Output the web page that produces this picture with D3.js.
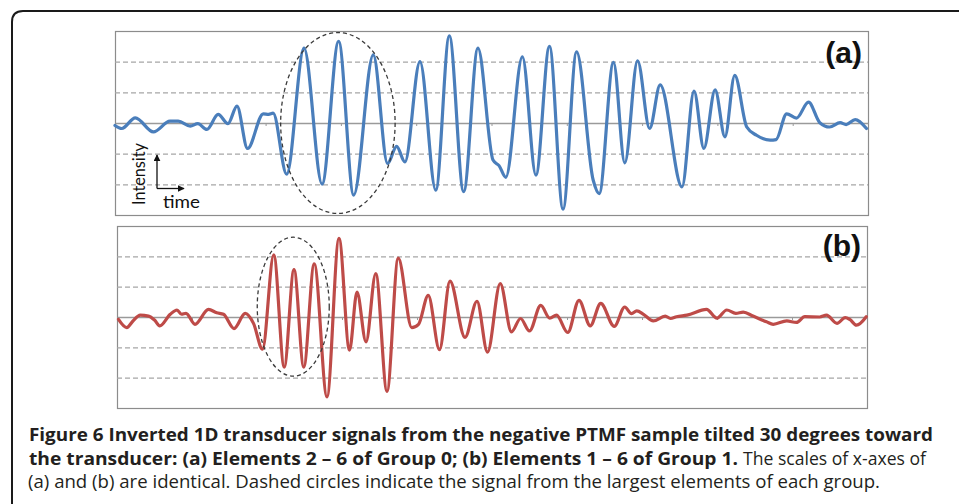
<!DOCTYPE html>
<html>
<head>
<meta charset="utf-8">
<script src="https://cdn.jsdelivr.net/npm/d3@7"></script>
<style>
  html, body { margin: 0; padding: 0; background: #fff; }
  svg { display: block; }
</style>
</head>
<body>
<svg id="fig" width="959" height="504"></svg>
<script>
// ---------- DATA ----------
// Panel (a): Elements 2–6 of Group 0 (time in tick units, intensity in grid units)
const blueTime = [0.00,0.09,0.27,0.51,0.73,0.84,1.00,1.10,1.22,1.37,1.50,1.62,1.76,1.97,2.04,2.10,2.28,2.51,2.75,2.97,3.17,3.43,3.62,3.74,3.85,4.05,4.26,4.44,4.63,4.82,5.02,5.10,5.19,5.41,5.59,5.77,5.95,6.13,6.35,6.43,6.62,6.77,6.94,7.10,7.24,7.53,7.69,7.82,7.97,8.10,8.23,8.39,8.52,8.70,8.78,8.92,9.05,9.21,9.36,9.49,9.63,9.71,9.83,9.98];
const blueValue = [-0.08,-0.18,0.17,-0.29,0.06,0.06,-0.10,-0.02,-0.21,0.28,-0.02,0.55,-0.83,0.30,0.28,0.32,-1.67,2.44,-1.99,2.66,-2.35,2.22,-1.32,-0.76,-1.27,2.00,-2.19,2.84,-2.24,2.44,-1.21,-1.39,-1.77,2.16,-1.70,2.50,-2.81,2.32,-1.86,-2.30,1.98,-1.30,2.03,-0.18,1.24,-2.08,1.04,-0.83,1.08,-0.45,1.55,-0.13,-0.40,-0.56,-0.54,0.30,0.16,0.68,0.01,-0.13,0.01,-0.05,0.11,-0.18];

// Panel (b): Elements 1–6 of Group 1
const redTime = [0.02,0.13,0.21,0.31,0.42,0.50,0.57,0.71,0.80,0.86,0.92,1.04,1.22,1.33,1.42,1.56,1.71,1.82,1.94,2.09,2.23,2.36,2.49,2.63,2.80,2.96,3.10,3.20,3.32,3.45,3.60,3.75,3.93,4.02,4.15,4.30,4.44,4.64,4.80,4.94,5.11,5.26,5.38,5.50,5.65,5.77,5.86,6.01,6.16,6.31,6.45,6.63,6.77,6.86,6.93,7.02,7.15,7.31,7.38,7.46,7.60,7.86,8.00,8.13,8.25,8.35,8.48,8.66,8.75,8.93,9.06,9.17,9.37,9.46,9.60,9.71,9.77,9.86,9.99];
const redValue = [-0.08,-0.35,-0.14,0.06,0.03,-0.10,-0.29,0.09,0.23,0.09,0.12,-0.24,0.25,0.14,0.09,-0.38,0.12,-0.21,-1.06,2.05,-1.65,1.56,-1.65,1.75,-2.63,2.59,-1.09,0.82,-0.82,1.43,-2.45,1.94,-0.35,-0.24,0.71,-1.08,1.18,-0.67,0.52,-1.16,1.10,-0.49,-0.05,-0.46,0.38,-0.04,0.06,-0.51,0.55,-0.29,0.45,-0.31,0.33,0.11,0.20,0.09,-0.13,0.03,-0.05,0.01,0.06,0.25,-0.04,0.23,0.12,0.16,0.03,-0.16,-0.24,-0.13,-0.18,0.01,0.00,0.06,-0.21,-0.02,-0.08,-0.27,0.01];

const xTicks = [1,2,3,4,5,6,7,8,9];
const gridLevels = [-2,-1,1,2];
const panelLabels = ["(a)", "(b)"];
// dashed ellipses (centre time, centre intensity, half-width, half-height) in data units
const ellipseA = [2.96, 0.0, 0.76, 2.95];
const ellipseB = [2.35, 0.34, 0.48, 2.29];

const captionLine1 = "Figure 6 Inverted 1D transducer signals from the negative PTMF sample tilted 30 degrees toward";
const captionLine2Bold = "the transducer: (a) Elements 2 – 6 of Group 0; (b) Elements 1 – 6 of Group 1.";
const captionLine2 = "The scales of x-axes of";
const captionLine3 = "(a) and (b) are identical. Dashed circles indicate the signal from the largest elements of each group.";

// ---------- DRAW ----------
const svg = d3.select("#fig");

// card border (rounded top-left corner)
svg.append("path")
  .attr("d", "M12,504 L12,22 Q12,11 23,11 L959,11")
  .attr("fill", "none").attr("stroke", "#1a1a1a").attr("stroke-width", 2);

const panels = [
  { x0: 115, x1: 868, y0: 31, y1: 215, t: blueTime, v: blueValue, color: "#4a7ebb", label: panelLabels[0], ell: ellipseA, labelY: 63 },
  { x0: 117, x1: 867, y0: 226, y1: 408, t: redTime, v: redValue, color: "#be4b48", label: panelLabels[1], ell: ellipseB, labelY: 256 }
];

panels.forEach((p, i) => {
  const g = svg.append("g");
  const x = d3.scaleLinear().domain([0, 10]).range([p.x0, p.x1]);
  const y = d3.scaleLinear().domain([-3, 3]).range([p.y1, p.y0]);

  // frame
  g.append("rect")
    .attr("x", p.x0 + 0.5).attr("y", p.y0 + 0.5)
    .attr("width", p.x1 - p.x0).attr("height", p.y1 - p.y0)
    .attr("fill", "#fff").attr("stroke", "#8c8c8c").attr("stroke-width", 1.2);

  // dashed horizontal grid
  const grid = g.append("g")
    .attr("transform", `translate(${p.x0},0)`)
    .call(d3.axisLeft(y).tickValues(gridLevels).tickSize(-(p.x1 - p.x0)).tickFormat(""));
  grid.select(".domain").remove();
  grid.selectAll(".tick line")
    .attr("stroke", "#a6a6a6").attr("stroke-width", 1.1).attr("stroke-dasharray", "5,3");

  // zero line (x axis) with small tick marks
  const ax = g.append("g")
    .attr("transform", `translate(0,${y(0)})`)
    .call(d3.axisBottom(x).tickValues(xTicks).tickSize(3).tickSizeOuter(0).tickFormat(""));
  ax.select(".domain").attr("stroke", "#9a9a9a").attr("stroke-width", 1.6);
  ax.selectAll(".tick line").attr("stroke", "#9a9a9a").attr("stroke-width", 1);

  // signal
  const data = p.t.map((tt, k) => [tt, p.v[k]]);
  const line = d3.line().x(d => x(d[0])).y(d => y(d[1])).curve(d3.curveMonotoneX);
  g.append("path")
    .datum(data)
    .attr("d", line)
    .attr("fill", "none")
    .attr("stroke", p.color)
    .attr("stroke-width", 3.2)
    .attr("stroke-linejoin", "round")
    .attr("stroke-linecap", "round");

  // dashed ellipse
  const [ecx, ecy, erx, ery] = p.ell;
  g.append("ellipse")
    .attr("cx", x(ecx)).attr("cy", y(ecy))
    .attr("rx", x(ecx + erx) - x(ecx)).attr("ry", y(ecy) - y(ecy + ery))
    .attr("fill", "none").attr("stroke", "#3a3a3a")
    .attr("stroke-width", 1.3).attr("stroke-dasharray", "4,3");

  // panel label
  g.append("text")
    .attr("x", p.x1 - 6).attr("y", p.labelY)
    .attr("text-anchor", "end")
    .attr("font-family", "'Liberation Sans', Arial, sans-serif")
    .attr("font-weight", "bold")
    .attr("font-size", 30)
    .attr("fill", "#111")
    .text(p.label);
});

// Intensity / time inset in panel (a)
const defs = svg.append("defs");
defs.append("marker")
  .attr("id", "arr").attr("viewBox", "0 0 10 10")
  .attr("refX", 9).attr("refY", 5)
  .attr("markerWidth", 7).attr("markerHeight", 7)
  .attr("markerUnits", "userSpaceOnUse")
  .attr("orient", "auto")
  .append("path").attr("d", "M0,0 L10,5 L0,10 Z").attr("fill", "#111");

const inset = svg.append("g");
inset.append("path")
  .attr("d", "M157,188.5 L157,155")
  .attr("stroke", "#111").attr("stroke-width", 1.3).attr("fill", "none")
  .attr("marker-end", "url(#arr)");
inset.append("path")
  .attr("d", "M157,188.5 L184,188.5")
  .attr("stroke", "#111").attr("stroke-width", 1.3).attr("fill", "none")
  .attr("marker-end", "url(#arr)");
inset.append("text")
  .attr("transform", "translate(144.5,205) rotate(-90)")
  .attr("font-family", "Lato, 'Open Sans', sans-serif")
  .attr("font-size", 18)
  .attr("fill", "#111")
  .attr("textLength", 62).attr("lengthAdjust", "spacingAndGlyphs")
  .text("Intensity");
inset.append("text")
  .attr("x", 163).attr("y", 208)
  .attr("font-family", "Lato, 'Open Sans', sans-serif")
  .attr("font-size", 18)
  .attr("fill", "#111")
  .attr("textLength", 37).attr("lengthAdjust", "spacingAndGlyphs")
  .text("time");

// caption
const cap = svg.append("g")
  .attr("font-family", "'Open Sans', 'Noto Sans', sans-serif")
  .attr("font-size", 18.5)
  .attr("fill", "#231f20");
cap.append("text")
  .attr("x", 29).attr("y", 441)
  .attr("font-weight", "bold")
  .attr("textLength", 904).attr("lengthAdjust", "spacingAndGlyphs")
  .text(captionLine1);
cap.append("text")
  .attr("x", 29).attr("y", 464.5)
  .attr("font-weight", "bold")
  .attr("textLength", 709).attr("lengthAdjust", "spacingAndGlyphs")
  .text(captionLine2Bold);
cap.append("text")
  .attr("x", 743).attr("y", 464.5)
  .attr("textLength", 183).attr("lengthAdjust", "spacingAndGlyphs")
  .text(captionLine2);
cap.append("text")
  .attr("x", 28).attr("y", 488)
  .attr("textLength", 852).attr("lengthAdjust", "spacingAndGlyphs")
  .text(captionLine3);
</script>
</body>
</html>
